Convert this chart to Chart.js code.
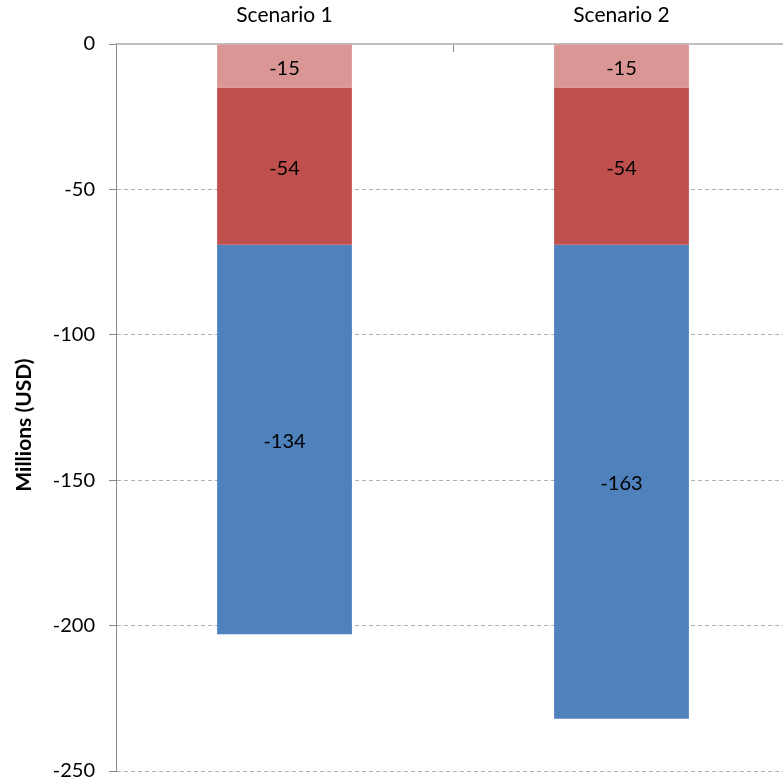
<!DOCTYPE html>
<html>
<head>
<meta charset="utf-8">
<script src="https://cdn.jsdelivr.net/npm/chart.js@4/dist/chart.umd.min.js"></script>
<style>
  html, body { margin: 0; padding: 0; background: #fff; overflow: hidden; }
  #wrap { width: 790px; height: 781px; }
</style>
</head>
<body>
<div id="wrap"><canvas id="chart"></canvas></div>
<script>
// values (millions of USD)
const scenarios = ['Scenario 1', 'Scenario 2'];
const seriesNames = ['Part A', 'Part B', 'Part C'];
const partA = [-15, -15];
const partB = [-54, -54];
const partC = [-134, -163];
const seriesColors = ['#D99694', '#C0504D', '#4F81BD'];
const yMin = -250, yMax = 0, yStep = 50;
const yTitle = 'Millions (USD)';

const fontFamily = 'Lato, "Open Sans", sans-serif';

// write each value in the middle of its segment
const segmentLabels = {
    id: 'segmentLabels',
    afterDatasetsDraw(chart) {
        const ctx = chart.ctx;
        ctx.save();
        ctx.font = '20px ' + fontFamily;
        ctx.fillStyle = '#000';
        ctx.textAlign = 'center';
        ctx.textBaseline = 'middle';
        chart.data.datasets.forEach((ds, i) => {
            const meta = chart.getDatasetMeta(i);
            meta.data.forEach((bar, j) => {
                const midY = (bar.y + bar.base) / 2 + 2;
                ctx.fillText(String(ds.data[j]), bar.x, midY);
            });
        });
        ctx.restore();
    }
};

// axis title, placed like the original (a bit below the plot centre)
const axisTitle = {
    id: 'axisTitle',
    afterDraw(chart) {
        const ctx = chart.ctx;
        ctx.save();
        ctx.translate(24, 425);
        ctx.rotate(-Math.PI / 2);
        ctx.font = 'bold 21px ' + fontFamily;
        ctx.fillStyle = '#000';
        ctx.textAlign = 'center';
        ctx.textBaseline = 'middle';
        ctx.fillText(yTitle, 0, 0);
        ctx.restore();
    }
};

const ctx = document.getElementById('chart').getContext('2d');

new Chart(ctx, {
    type: 'bar',
    data: {
        labels: scenarios,
        datasets: [partA, partB, partC].map((values, i) => ({
            label: seriesNames[i],
            data: values,
            backgroundColor: seriesColors[i],
            borderWidth: 0,
            categoryPercentage: 1,
            barPercentage: 0.4
        }))
    },
    options: {
        responsive: true,
        maintainAspectRatio: false,
        animation: false,
        layout: { padding: { left: 0, top: 0, right: 0, bottom: 10 } },
        plugins: {
            legend: { display: false },
            tooltip: { enabled: false }
        },
        scales: {
            x: {
                position: 'top',
                stacked: true,
                grid: {
                    drawOnChartArea: false,
                    drawTicks: true,
                    tickLength: -8,
                    tickColor: '#888'
                },
                border: { display: true, color: '#c0c0c0', width: 2 },
                ticks: {
                    color: '#000',
                    padding: 24,
                    font: { family: fontFamily, size: 21 }
                },
                afterFit(scale) { scale.height = 44; }
            },
            y: {
                stacked: true,
                min: yMin,
                max: yMax,
                ticks: {
                    stepSize: yStep,
                    color: '#000',
                    padding: 14,
                    font: { family: fontFamily, size: 20 }
                },
                grid: {
                    color: '#b0b0b0',
                    tickLength: 7,
                    tickColor: '#888'
                },
                border: { display: true, color: '#888', width: 1, dash: [4, 3] },
                afterFit(scale) {
                    scale.width = 116;
                    scale.paddingTop = 0;
                    scale.paddingBottom = 0;
                }
            }
        }
    },
    plugins: [segmentLabels, axisTitle]
});
</script>
</body>
</html>
